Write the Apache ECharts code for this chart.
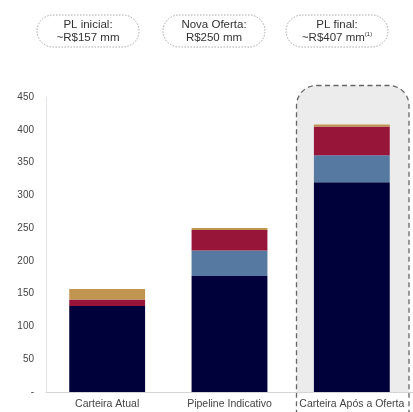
<!DOCTYPE html>
<html>
<head>
<meta charset="utf-8">
<script src="https://cdn.jsdelivr.net/npm/echarts@6/dist/echarts.min.js"></script>
<style>
  html, body { margin: 0; padding: 0; background: #fff; }
  #chart { width: 413px; height: 412px; }
</style>
</head>
<body>
<div id="chart"></div>
<script>
// Portfolio composition (R$ mm) per stage
const categories = ['Carteira Atual', 'Pipeline Indicativo', 'Carteira Após a Oferta'];
const navyValues = [131, 177, 320];
const blueValues = [0, 39, 41];
const redValues = [10, 31, 44];
const goldValues = [16, 3, 3];
const yTicks = [0, 50, 100, 150, 200, 250, 300, 350, 400, 450];

// Summary pills shown above the chart
const pillTitles = ['PL inicial:', 'Nova Oferta:', 'PL final:'];
const pillValues = ['~R$157 mm', 'R$250 mm', '~R$407 mm'];

const chart = echarts.init(document.getElementById('chart'), null, { renderer: 'canvas' });

const font = 'Arial, "Liberation Sans", sans-serif';
const pillCenters = [88, 214, 337];

const pills = pillTitles.map((t, i) => ({
  type: 'group',
  z: 10,
  children: [
    {
      type: 'rect',
      shape: { x: pillCenters[i] - 51, y: 15, width: 102, height: 32, r: 16 },
      style: { fill: '#fff', stroke: '#a8a8a8', lineWidth: 1, lineDash: [1.5, 1.5] }
    },
    {
      type: 'text',
      x: pillCenters[i],
      y: 31,
      style: {
        text: '{t|' + t + '}\n{v|' + pillValues[i] + '}' + (i === 2 ? '{s|(1)}' : ''),
        align: 'center',
        verticalAlign: 'middle',
        rich: {
          t: { fontFamily: font, fontSize: 11.5, fill: '#333', lineHeight: 13 },
          v: { fontFamily: font, fontSize: 11.5, fill: '#333', lineHeight: 13 },
          s: { fontFamily: font, fontSize: 6, fill: '#333', verticalAlign: 'top', lineHeight: 13, padding: [0, 0, 6, 0] }
        }
      }
    }
  ]
}));

const barStyle = (color) => ({ color: color });

const option = {
  backgroundColor: '#fff',
  animation: false,
  grid: { left: 46, top: 97, width: 373, height: 295 },
  xAxis: {
    type: 'category',
    data: categories,
    z: 5,
    axisLine: { show: true, lineStyle: { color: '#d4d4d4', width: 1 } },
    axisTick: { show: false },
    axisLabel: { fontFamily: font, fontSize: 10.5, color: '#444', margin: 7, interval: 0 }
  },
  yAxis: {
    type: 'value',
    min: 0,
    max: 450,
    interval: 50,
    axisLine: { show: true, lineStyle: { color: '#e2e4ea', width: 1 } },
    axisTick: { show: false },
    splitLine: { show: false },
    axisLabel: {
      fontFamily: font, fontSize: 10, color: '#444', margin: 12,
      formatter: (v) => (yTicks.indexOf(v) === 0 ? '-' : String(v))
    }
  },
  graphic: [
    // Highlight panel behind the last bar
    {
      type: 'rect',
      z: 0,
      shape: { x: 296.5, y: 85.5, width: 112.5, height: 306.5, r: [20, 20, 0, 0] },
      style: { fill: '#ececec' }
    },
    {
      type: 'rect',
      z: 1,
      shape: { x: 296.5, y: 85.5, width: 112.5, height: 360, r: 20 },
      style: { fill: 'none', stroke: '#666', lineWidth: 1.3, lineDash: [5, 3.5] }
    },
    ...pills
  ],
  series: [
    { name: 'navy', type: 'bar', stack: 'pl', data: navyValues, itemStyle: barStyle('#00003a'), barCategoryGap: '38%', z: 3 },
    { name: 'blue', type: 'bar', stack: 'pl', data: blueValues, itemStyle: barStyle('#5579a0'), z: 3 },
    { name: 'red', type: 'bar', stack: 'pl', data: redValues, itemStyle: barStyle('#961539'), z: 3 },
    { name: 'gold', type: 'bar', stack: 'pl', data: goldValues, itemStyle: barStyle('#c09550'), z: 3 }
  ]
};

chart.setOption(option);
</script>
</body>
</html>
